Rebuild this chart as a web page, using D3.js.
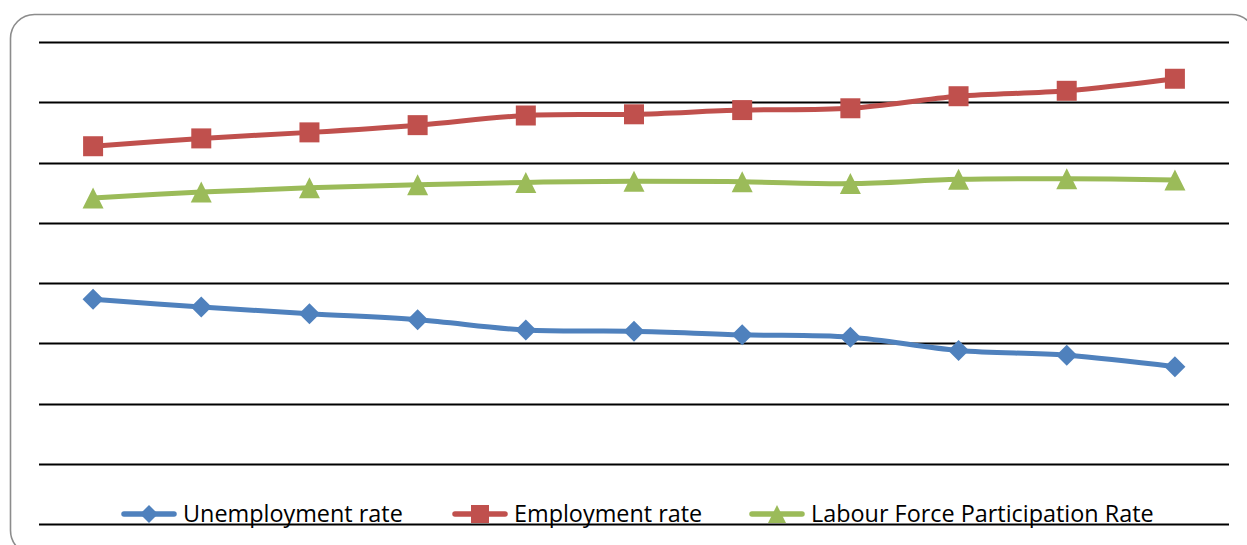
<!DOCTYPE html>
<html>
<head>
<meta charset="utf-8">
<script src="https://cdnjs.cloudflare.com/ajax/libs/d3/7.8.5/d3.min.js"></script>
<style>
  html, body { margin: 0; padding: 0; background: #fff; }
  svg { display: block; }
  .legend-label { font-family: "Open Sans", "Noto Sans", sans-serif; font-size: 23.4px; fill: #000; }
</style>
</head>
<body>
<div id="chart"></div>
<script>
// chart values (no axis labels shown, so scale 0..80)
var periods = ['2001', '2002', '2003', '2004', '2005', '2006', '2007', '2008', '2009', '2010', '2011'];
var unemployment = [37.3, 36.0, 34.9, 33.9, 32.2, 32.0, 31.4, 31.0, 28.8, 28.0, 26.1];
var employment = [62.7, 64.0, 65.0, 66.2, 67.8, 68.0, 68.7, 69.0, 71.0, 71.9, 73.9];
var participation = [54.1, 55.1, 55.8, 56.3, 56.7, 56.9, 56.8, 56.5, 57.2, 57.3, 57.1];
var gridValues = [0, 10, 20, 30, 40, 50, 60, 70, 80];
var seriesNames = ['Unemployment rate', 'Employment rate', 'Labour Force Participation Rate'];

var width = 1247, height = 545;
var margin = { top: 42, right: 18, bottom: 21, left: 39 };

var svg = d3.select('#chart').append('svg')
    .attr('width', width)
    .attr('height', height);

// rounded chart frame, runs off the right and bottom edge
svg.append('rect')
    .attr('x', 10.5)
    .attr('y', 14.5)
    .attr('width', 1245)
    .attr('height', 540)
    .attr('rx', 24)
    .attr('fill', '#fff')
    .attr('stroke', '#8c8c8c')
    .attr('stroke-width', 1.6);

var x = d3.scaleBand()
    .domain(periods)
    .range([margin.left, width - margin.right]);

var y = d3.scaleLinear()
    .domain([0, 80])
    .range([height - margin.bottom, margin.top]);

// horizontal grid lines
svg.append('g')
    .selectAll('line')
    .data(gridValues)
    .enter()
    .append('line')
        .attr('x1', margin.left)
        .attr('x2', width - margin.right)
        .attr('y1', function(d) { return Math.round(y(d)) + 0.5; })
        .attr('y2', function(d) { return Math.round(y(d)) + 0.5; })
        .attr('stroke', '#000')
        .attr('stroke-width', 2);

var cx = function(d, i) { return x(periods[i]) + x.bandwidth() / 2; };

var line = d3.line()
    .x(cx)
    .y(function(d) { return y(d); })
    .curve(d3.curveCatmullRom.alpha(0.5));

// marker shapes, drawn around 0,0 with a given pixel size
function diamond(s) { var h = s / 2; return 'M0,' + (-h) + 'L' + h + ',0L0,' + h + 'L' + (-h) + ',0Z'; }
function square(s) { var h = s / 2; return 'M' + (-h) + ',' + (-h) + 'H' + h + 'V' + h + 'H' + (-h) + 'Z'; }
function triangle(s) { var h = s / 2; return 'M0,' + (-h) + 'L' + h + ',' + h + 'H' + (-h) + 'Z'; }

var series = [
  { name: seriesNames[0], values: unemployment, color: '#4f81bd', shape: diamond, size: 21 },
  { name: seriesNames[1], values: employment, color: '#c0504d', shape: square, size: 20 },
  { name: seriesNames[2], values: participation, color: '#9bbb59', shape: triangle, size: 21 }
];

series.forEach(function(s) {
  var g = svg.append('g');
  g.append('path')
      .datum(s.values)
      .attr('d', line)
      .attr('fill', 'none')
      .attr('stroke', s.color)
      .attr('stroke-width', 5)
      .attr('stroke-linejoin', 'round');

  g.selectAll('.marker')
      .data(s.values)
      .enter()
      .append('path')
          .attr('class', 'marker')
          .attr('d', s.shape(s.size))
          .attr('transform', function(d, i) { return 'translate(' + cx(d, i) + ',' + y(d) + ')'; })
          .attr('fill', s.color);
});

// legend along the bottom
var legendX = [122, 453, 750];
var legendY = 514;
var legend = svg.append('g')
    .selectAll('g')
    .data(series)
    .enter()
    .append('g')
        .attr('transform', function(d, i) { return 'translate(' + legendX[i] + ',' + legendY + ')'; });

legend.append('line')
    .attr('x1', 2)
    .attr('x2', 52)
    .attr('stroke', function(d) { return d.color; })
    .attr('stroke-width', 5.5)
    .attr('stroke-linecap', 'round');

legend.append('path')
    .attr('d', function(d) { return d.shape(18); })
    .attr('transform', 'translate(27,0)')
    .attr('fill', function(d) { return d.color; });

legend.append('text')
    .attr('class', 'legend-label')
    .attr('x', 61)
    .attr('y', 8)
    .text(function(d) { return d.name; });
</script>
</body>
</html>
